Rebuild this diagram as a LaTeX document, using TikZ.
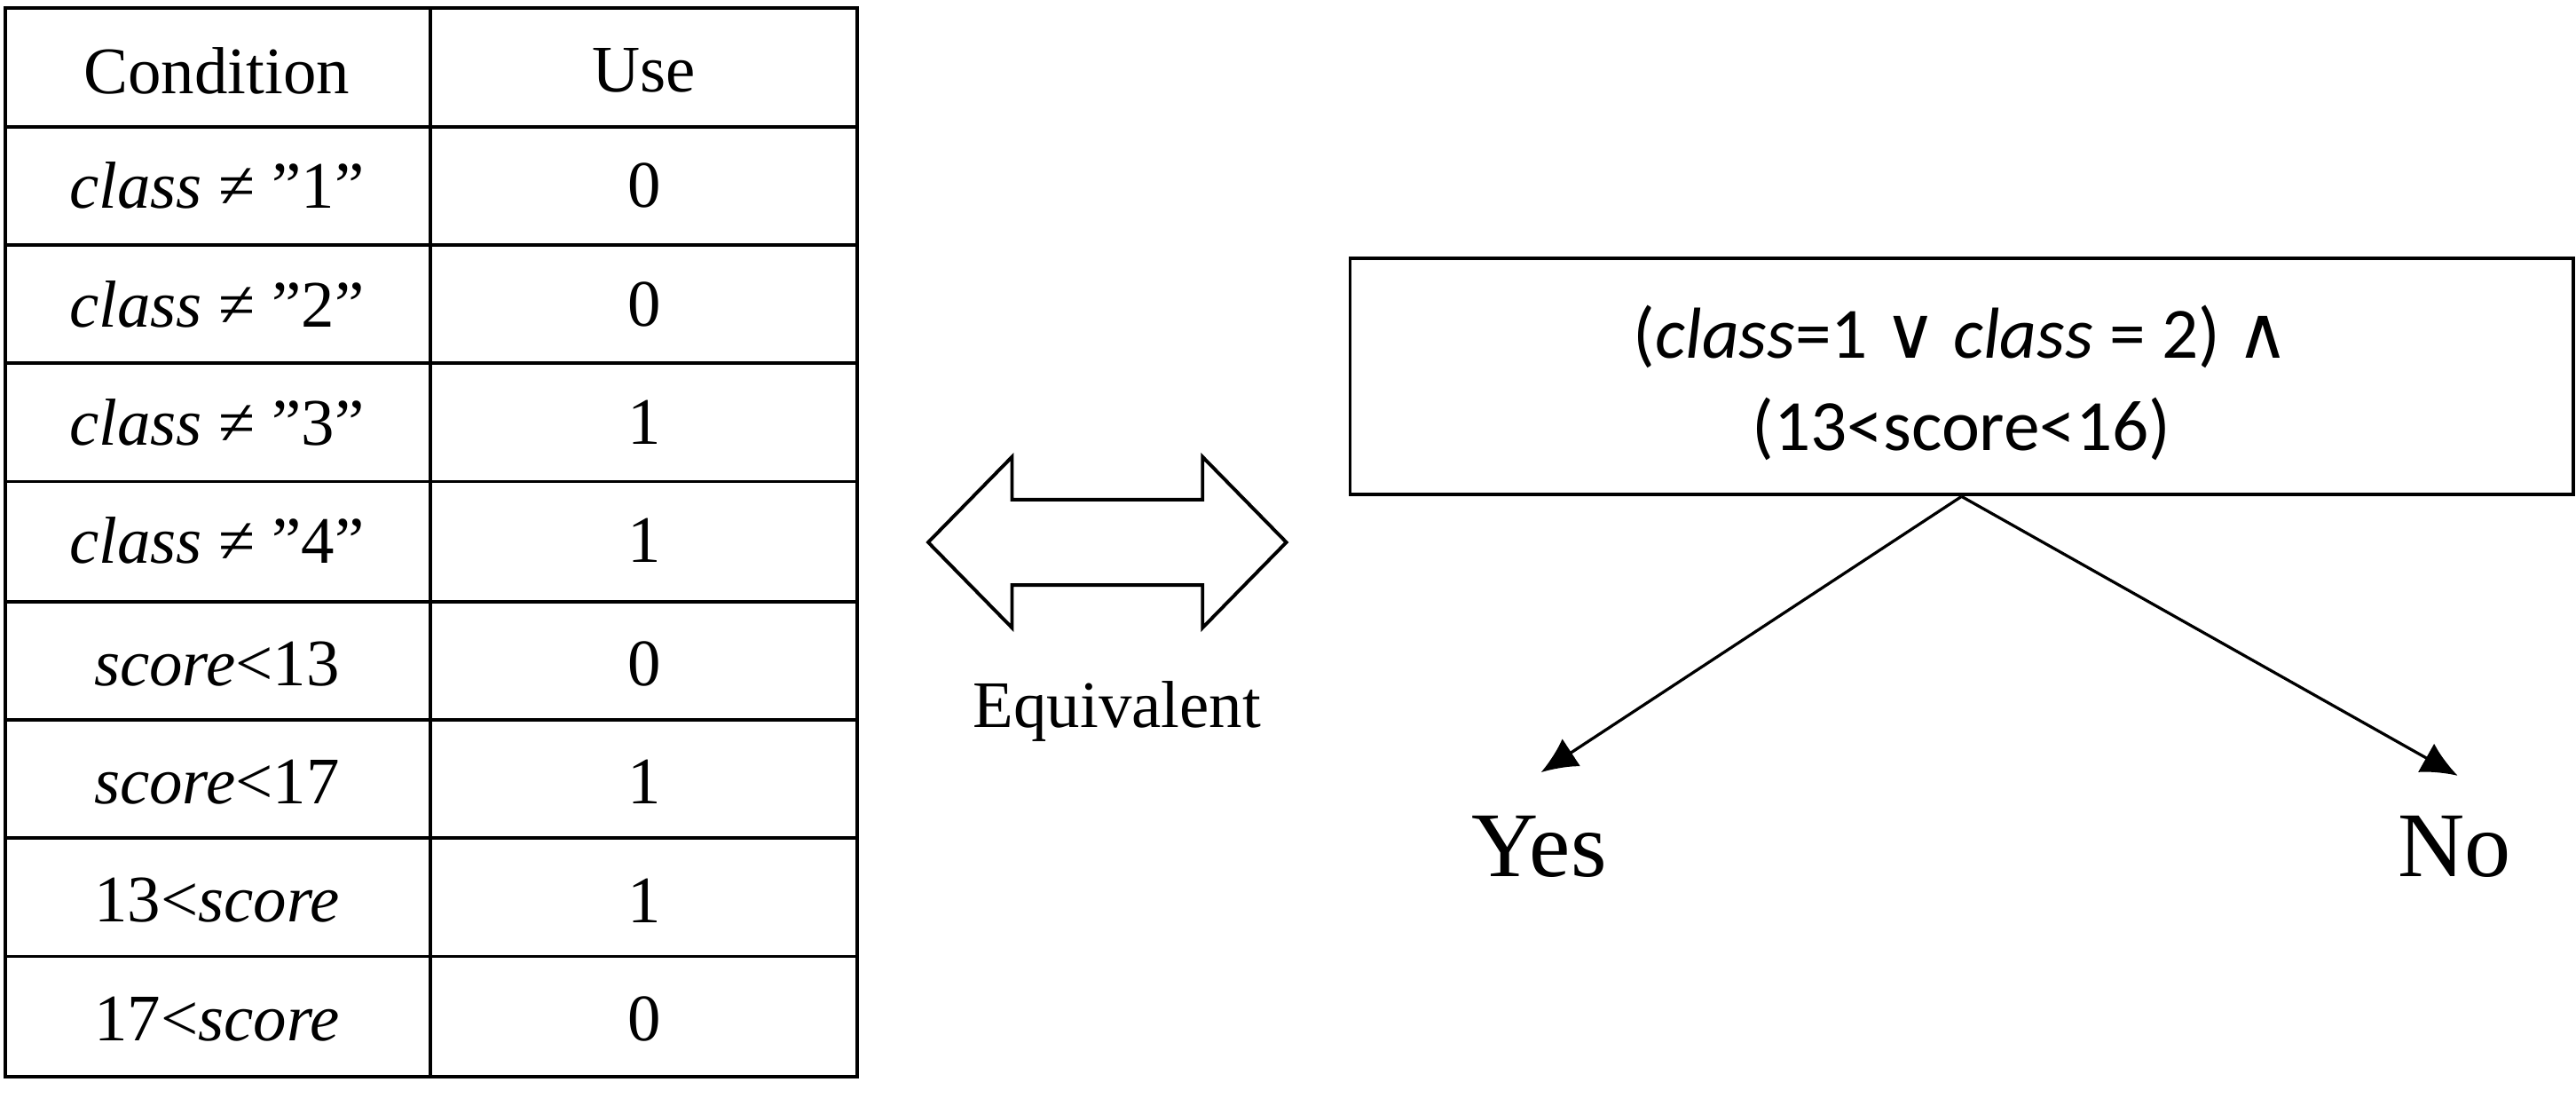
\documentclass[tikz,border=0pt]{standalone}
\usepackage{fontspec}
\setmainfont{Liberation Serif}
\newfontfamily\boxfont{Carlito}
\newfontfamily\symfont{DejaVu Sans}
\usetikzlibrary{arrows.meta}
\tikzset{
    cell/.style={font=\fontsize{11.5pt}{13pt}\selectfont, inner sep=0pt},
    answer/.style={font=\fontsize{16pt}{18pt}\selectfont, inner sep=0pt},
    branch/.style={-{Latex[length=2.2mm,width=2mm]}, line width=0.5pt},
}
\newcommand{\cv}[1]{{\itshape #1}}
\newcommand{\qt}[1]{\symbol{34}#1\symbol{34}}
\begin{document}
\begin{tikzpicture}[x=0.01cm,y=-0.01cm, line width=0.6pt]
    \useasboundingbox (0,0) rectangle (1568,672.5);

    % table
    \draw (3,5) rectangle (522,655);
    \draw (262,5) -- (262,655);
    \foreach \y in {77,149,221,293,366,438,510,582}
        \draw (3,\y) -- (522,\y);

    \node[cell] (hcond) at (132,43) {Condition};
    \node[cell] (huse) at (392,43) {Use};
    \foreach \c/\u/\y [count=\i] in {
        {\cv{class} ≠ \qt{1}}/0/113, {\cv{class} ≠ \qt{2}}/0/185,
        {\cv{class} ≠ \qt{3}}/1/257, {\cv{class} ≠ \qt{4}}/1/329,
        {\cv{score}<13}/0/404, {\cv{score}<17}/1/476,
        {13<\cv{score}}/1/548, {17<\cv{score}}/0/620}{
        \node[cell] (cond\i) at (132,\y) {\c};
        \node[cell] (use\i) at (392,\y) {\u};
    }

    % double arrow
    \draw (565,330) -- (616,278) -- (616,304) -- (732,304) -- (732,278)
        -- (783,330) -- (732,382) -- (732,356) -- (616,356) -- (616,382) -- cycle;
    \node[cell] (equiv) at (680,433) {Equivalent};

    % decision box
    \node[draw, minimum width=7.44cm, minimum height=1.44cm,
        inner sep=0pt] (rule) at (1194,229) {};
    \node[cell, font=\boxfont\fontsize{12.5pt}{14pt}\selectfont, align=center]
        (ruletext) at (1194,233) {(\cv{class}=1 {\symfont ∨} \cv{class} = 2) {\symfont ∧}\\[2pt](13<score<16)};
    \node[answer] (yes) at (937,515) {Yes};
    \node[answer] (no) at (1494,515) {No};
    \draw[branch] (rule.south) -- (938,470);
    \draw[branch] (rule.south) -- (1496,472);
\end{tikzpicture}
\end{document}
